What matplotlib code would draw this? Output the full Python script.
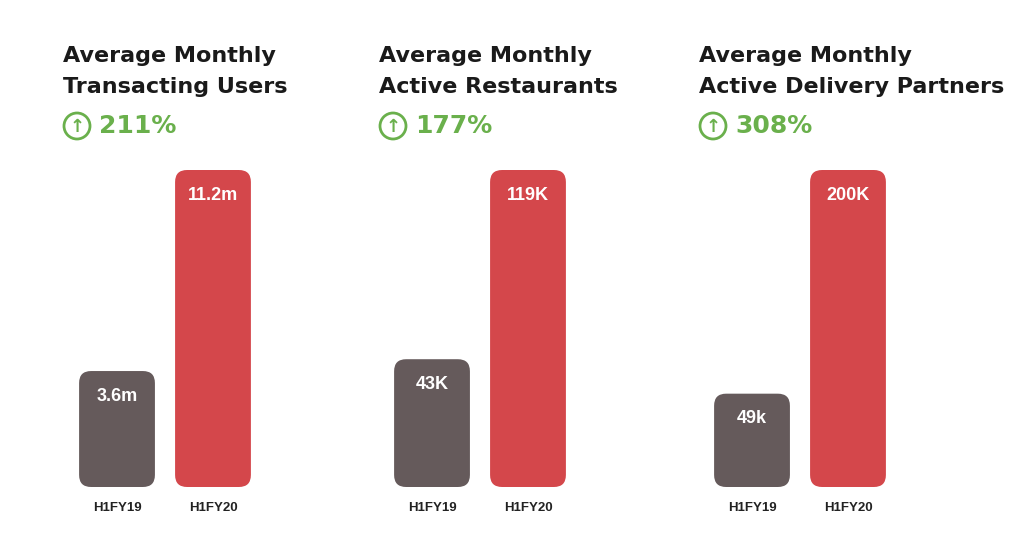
import matplotlib
matplotlib.use("Agg")
import matplotlib.pyplot as plt
from matplotlib.patches import FancyBboxPatch, Ellipse

titles = [["Average Monthly", "Transacting Users"],
          ["Average Monthly", "Active Restaurants"],
          ["Average Monthly", "Active Delivery Partners"]]
growth = ["211%", "177%", "308%"]
categories = ["H1FY19", "H1FY20"]
values = [[3.6, 11.2], [43, 119], [49, 200]]
value_labels = [["3.6m", "11.2m"], ["43K", "119K"], ["49k", "200K"]]

W, H = 1024, 546
fig = plt.figure(figsize=(W/100, H/100), dpi=100)
fig.patch.set_facecolor("white")
colors = ["#655a5b", "#d4474b"]
green = "#6ab04c"
bar_left = [79, 394, 714]
title_x = [63, 379, 699]
k = 0.07
for p in range(3):
    left = bar_left[p]
    ax = fig.add_axes([left/W, (H-487)/H, 172/W, 317/H])
    vmax = max(values[p])
    base = -k*vmax
    ax.set_xlim(-0.396, 1.396)
    ax.set_ylim(base, vmax)
    ax.axis("off")
    bars = ax.bar(range(2), [v - base for v in values[p]], bottom=base, width=0.79, color=colors)
    xpp = 1.792/172
    ypp = (vmax-base)/317
    r = 12
    for b, c in zip(bars, colors):
        b.set_visible(False)
        x, y, w, h = b.get_x(), b.get_y(), b.get_width(), b.get_height()
        pad = r*xpp
        patch = FancyBboxPatch((x+pad, y+pad*ypp/xpp), w-2*pad, h-2*pad*ypp/xpp,
                               boxstyle=f"round,pad={pad},rounding_size={pad}",
                               mutation_aspect=ypp/xpp, facecolor=c, edgecolor="none")
        ax.add_patch(patch)
    for i, (v, lab) in enumerate(zip(values[p], value_labels[p])):
        ax.annotate(lab, (i, v), xytext=(0, -18), textcoords="offset points",
                    ha="center", va="center", color="white", fontsize=13,
                    fontweight="bold", family="Liberation Sans")
        ax.annotate(categories[i], (i, base), xytext=(0, -15), textcoords="offset points",
                    ha="center", va="center", color="#222222", fontsize=9.5,
                    fontweight="bold", family="Liberation Sans")
    tx = title_x[p]
    fig.text(tx/W, 1-56/H, titles[p][0], fontsize=16, fontweight="bold", color="#1a1a1a", va="center")
    fig.text(tx/W, 1-87/H, titles[p][1], fontsize=16, fontweight="bold", color="#1a1a1a", va="center")
    cx, cy = tx+14, 126
    fig.patches.append(Ellipse((cx/W, 1-cy/H), 26/W, 26/H, transform=fig.transFigure,
                               facecolor="none", edgecolor=green, linewidth=2))
    fig.text(cx/W, 1-(cy+1)/H, "↑", fontsize=13, fontweight="bold", color=green, ha="center", va="center")
    fig.text((tx+36)/W, 1-126/H, growth[p], fontsize=18, fontweight="bold", color=green, va="center")

fig.savefig("out.png", dpi=100)
